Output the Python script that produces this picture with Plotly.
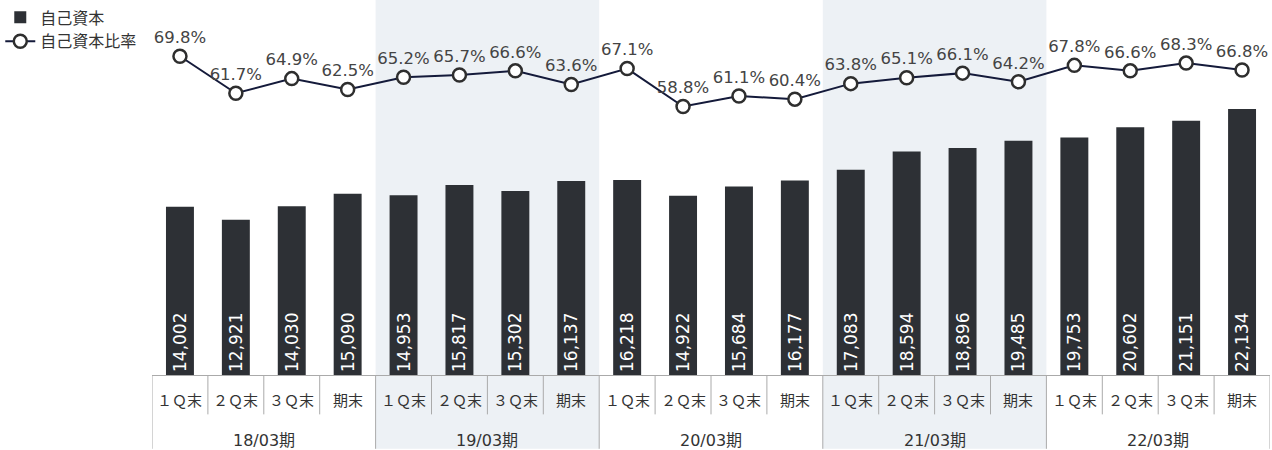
import plotly.graph_objects as go

years = ["18/03期", "19/03期", "20/03期", "21/03期", "22/03期"]
quarters = ["１Ｑ末", "２Ｑ末", "３Ｑ末", "期末"]
equity = [14002, 12921, 14030, 15090,
          14953, 15817, 15302, 16137,
          16218, 14922, 15684, 16177,
          17083, 18594, 18896, 19485,
          19753, 20602, 21151, 22134]
ratio = [69.8, 61.7, 64.9, 62.5,
         65.2, 65.7, 66.6, 63.6,
         67.1, 58.8, 61.1, 60.4,
         63.8, 65.1, 66.1, 64.2,
         67.8, 66.6, 68.3, 66.8]
shaded_years = ["19/03期", "21/03期"]

nq = len(quarters)
xs = list(range(len(equity)))
font = "DejaVu Sans, Noto Sans CJK JP, sans-serif"
plot_h = 375
label_row = 40 / plot_h
bottom = 75 / plot_h

fig = go.Figure()
fig.add_trace(go.Bar(x=xs, y=equity, name="自己資本",
                     marker=dict(color="#2d3035", line=dict(width=0)),
                     width=0.5,
                     text=[f"{v:,}" for v in equity], textposition="inside",
                     insidetextanchor="start", textangle=-90,
                     textfont=dict(color="white", size=17, family=font)))
fig.add_trace(go.Scatter(x=xs, y=ratio, name="自己資本比率", yaxis="y2",
                         mode="lines+markers+text",
                         line=dict(color="#141a3a", width=2),
                         marker=dict(size=13, color="white", line=dict(color="#2e2e2e", width=2.5)),
                         text=[f"{v}%" for v in ratio], textposition="top center",
                         textfont=dict(color="#444", size=16.5, family=font)))

shapes = []
annotations = []
for y in shaded_years:
    i = years.index(y)
    shapes.append(dict(type="rect", xref="x", yref="paper",
                       x0=i * nq - 0.5, x1=(i + 1) * nq - 0.5, y0=-bottom, y1=1.03,
                       fillcolor="#edf1f5", line=dict(width=0), layer="below"))
for k in range(len(xs) + 1):
    shapes.append(dict(type="line", xref="x", yref="paper",
                       x0=k - 0.5, x1=k - 0.5, y0=0,
                       y1=-bottom if k % nq == 0 else -label_row,
                       line=dict(color="#aaaaaa", width=1)))
for k in xs:
    annotations.append(dict(x=k, y=0, xref="x", yref="paper", yanchor="middle",
                            yshift=-26, text=quarters[k % nq], showarrow=False,
                            font=dict(size=15, color="#333", family=font)))
for i, y in enumerate(years):
    annotations.append(dict(x=i * nq + (nq - 1) / 2, y=0, xref="x", yref="paper",
                            yanchor="middle", yshift=-65, text=y, showarrow=False,
                            font=dict(size=16, color="#333", family=font)))

fig.update_layout(
    width=1272, height=450,
    margin=dict(l=150, r=2, t=0, b=75),
    plot_bgcolor="rgba(0,0,0,0)", paper_bgcolor="white",
    font=dict(family=font, size=14, color="#333"),
    shapes=shapes, annotations=annotations,
    showlegend=True,
    legend=dict(x=-152 / 1120, y=1.015, xanchor="left", yanchor="top",
                bgcolor="rgba(0,0,0,0)", font=dict(size=16, color="#333"),
                tracegroupgap=0, itemwidth=30),
    xaxis=dict(range=[-0.5, len(xs) - 0.5], showgrid=False, zeroline=False,
               showline=True, linecolor="#aaaaaa", showticklabels=False, ticks=""),
    yaxis=dict(range=[0, 30700], visible=False, showgrid=False),
    yaxis2=dict(range=[0, 80.8], overlaying="y", visible=False, showgrid=False),
)

fig.write_html("out.html", config={"displayModeBar": False},
               post_script="document.body.style.margin='0';")
